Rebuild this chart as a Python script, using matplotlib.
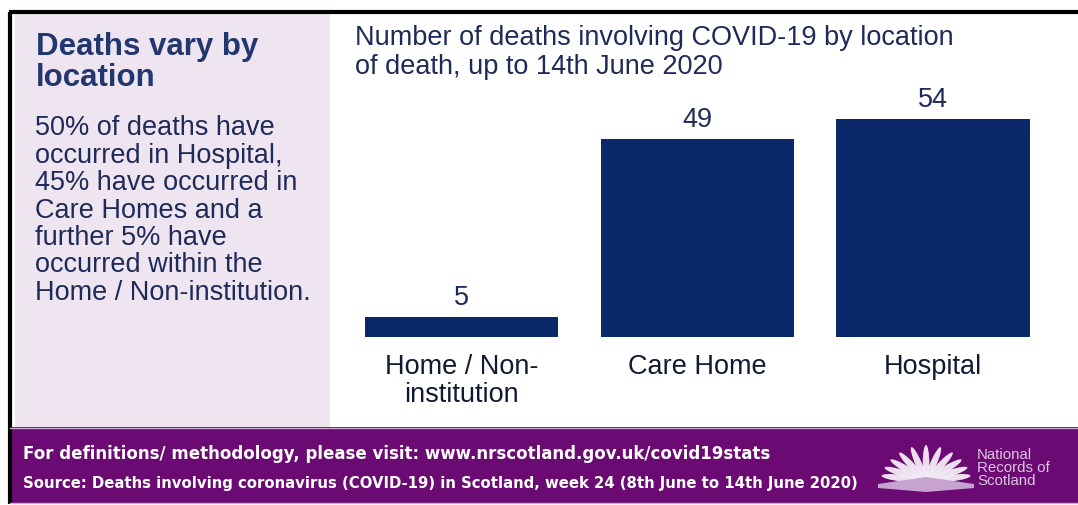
import matplotlib
matplotlib.use("Agg")
import matplotlib.pyplot as plt
from matplotlib.patches import Rectangle, Ellipse, Polygon
import numpy as np

plt.rcParams["font.family"] = ["Liberation Sans", "DejaVu Sans"]

# ==========================================
# DATA
# ==========================================

locations = ["Home / Non-\ninstitution", "Care Home", "Hospital"]
deaths = [5, 49, 54]

chart_title = [
    "Number of deaths involving COVID-19 by location",
    "of death, up to 14th June 2020",
]
panel_heading = ["Deaths vary by", "location"]
panel_body = [
    "50% of deaths have",
    "occurred in Hospital,",
    "45% have occurred in",
    "Care Homes and a",
    "further 5% have",
    "occurred within the",
    "Home / Non-institution.",
]
footer_link = "For definitions/ methodology, please visit: www.nrscotland.gov.uk/covid19stats"
footer_source = ("Source: Deaths involving coronavirus (COVID-19) in Scotland, "
                 "week 24 (8th June to 14th June 2020)")
logo_words = ["National", "Records of", "Scotland"]

# ==========================================
# STYLE
# ==========================================

W, H = 1078, 506
BAR_COLOR = "#0b2868"
TEXT_COLOR = "#1e2a58"
HEAD_COLOR = "#21376e"
PANEL_COLOR = "#efe5f1"
FOOTER_COLOR = "#6b0a73"
LOGO_TEXT = "#dcc6e2"
BODY_SIZE = 19.5

fig = plt.figure(figsize=(W / 100, H / 100), dpi=100)

# background layer in pixel coordinates
bg = fig.add_axes([0, 0, 1, 1])
bg.set_xlim(0, W)
bg.set_ylim(H, 0)
bg.axis("off")

bg.add_patch(Rectangle((15, 15), 315, 413, color=PANEL_COLOR, lw=0))
bg.add_patch(Rectangle((10, 428), W - 10, 76, color=FOOTER_COLOR, lw=0))
bg.plot([10, 10], [13, 505], color="black", lw=3, solid_capstyle="butt")
bg.plot([8.5, W], [13, 13], color="black", lw=3, solid_capstyle="butt")
bg.plot([10, W], [428.5, 428.5], color="#c9a9cf", lw=1)
bg.plot([10, W], [504, 504], color="#c9a9cf", lw=1)

# left panel text
for i, line in enumerate(panel_heading):
    bg.text(36, 55 + i * 31, line, fontsize=22.5, fontweight="bold",
            color=HEAD_COLOR, va="baseline")
for i, line in enumerate(panel_body):
    bg.text(35, 135 + i * 27.5, line, fontsize=BODY_SIZE, color=TEXT_COLOR,
            va="baseline")

# chart title
for i, line in enumerate(chart_title):
    bg.text(355, 45 + i * 28.5, line, fontsize=BODY_SIZE, color=TEXT_COLOR,
            va="baseline")

# footer
bg.text(23, 459, footer_link, fontsize=12.0, fontweight="bold",
        family="DejaVu Sans", color="white", va="baseline")
bg.text(23, 488, footer_source, fontsize=10.7, fontweight="bold",
        family="DejaVu Sans", color="white", va="baseline")

# logo
apex = (926, 482)
for ang in np.linspace(10, 170, 11):
    r = np.radians(ang)
    cx = apex[0] + 27 * np.cos(r)
    cy = apex[1] - 18 * np.sin(r)
    tilt = np.degrees(np.arctan2(18 * np.sin(r), 27 * np.cos(r)))
    bg.add_patch(Ellipse((cx, cy), 36, 6.5, angle=-tilt, color="#f5ecf7",
                         lw=0, alpha=0.95))
bg.add_patch(Polygon([[878, 485], [926, 478], [974, 485], [974, 489],
                      [926, 493], [878, 489]], closed=True,
                     color="#c7a3cf", lw=0))
for i, word in enumerate(logo_words):
    bg.text(977, 459 + i * 13, word, fontsize=10.8, color=LOGO_TEXT,
            va="baseline")

# ==========================================
# BAR CHART
# ==========================================

base_y = 338
px_per_unit = 4.04
x_left, x_right = 343.5, 1051
ax = fig.add_axes([x_left / W, (H - base_y) / H, (x_right - x_left) / W,
                   60 * px_per_unit / H])
ax.patch.set_alpha(0)

x = np.arange(len(locations))
ax.bar(x, deaths, width=0.82, color=BAR_COLOR)

for xi, v in zip(x, deaths):
    ax.annotate(str(v), (xi, v), xytext=(0, 9.5), textcoords="offset points",
                ha="center", va="baseline", fontsize=BODY_SIZE,
                color=TEXT_COLOR)

ax.set_xlim(-0.5, 2.5)
ax.set_ylim(0, 60)
ax.set_xticks(x, locations)
ax.set_yticks([])
ax.tick_params(axis="x", length=0, pad=11.5, labelsize=BODY_SIZE,
               labelcolor="#111a33")
for lbl in ax.get_xticklabels():
    lbl.set_linespacing(1.1)
for s in ax.spines.values():
    s.set_visible(False)

fig.savefig("out.png", dpi=100)
